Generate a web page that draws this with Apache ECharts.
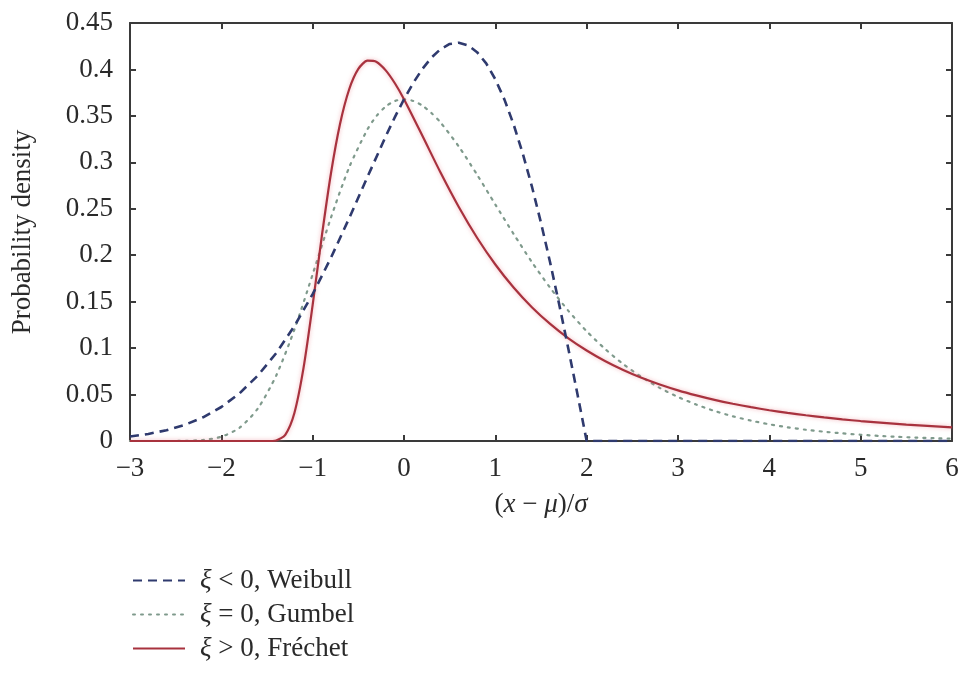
<!DOCTYPE html>
<html>
<head>
<meta charset="utf-8">
<script src="https://cdn.jsdelivr.net/npm/echarts@6/dist/echarts.min.js"></script>
<style>
  html, body { margin: 0; padding: 0; background: #fff; }
  #chart { width: 962px; height: 690px; }
</style>
</head>
<body>
<div id="chart"></div>
<script>
// Axis settings
const xTicks = { min: -3, max: 6, interval: 1 };
const yTicks = { min: 0, max: 0.45, interval: 0.05 };

// Density curves, [x, density] pairs
const weibull = [
  [-3.0, 0.0048], [-2.8, 0.0076], [-2.6, 0.0116], [-2.4, 0.0174], [-2.2, 0.0255],
  [-2.0, 0.0366], [-1.8, 0.0514], [-1.6, 0.0705], [-1.4, 0.0945], [-1.2, 0.1237],
  [-1.0, 0.1581], [-0.8, 0.1972], [-0.6, 0.2399], [-0.4, 0.2843], [-0.2, 0.3280],
  [-0.1, 0.3487], [0.0, 0.3679], [0.1, 0.3853], [0.2, 0.4004], [0.3, 0.4127],
  [0.4, 0.4218], [0.5, 0.4274], [0.6, 0.4288], [0.7, 0.4260], [0.8, 0.4186],
  [0.9, 0.4065], [1.0, 0.3894], [1.1, 0.3675], [1.2, 0.3409], [1.3, 0.3096],
  [1.4, 0.2742], [1.5, 0.2349], [1.6, 0.1922], [1.7, 0.1467], [1.8, 0.0990],
  [1.9, 0.0500], [2.0, 0.0], [6.0, 0.0]
];

const gumbel = [
  [-3.0, 0.0], [-2.6, 0.0], [-2.4, 0.0002], [-2.2, 0.0011], [-2.0, 0.0046],
  [-1.8, 0.0143], [-1.6, 0.0350], [-1.4, 0.0703], [-1.2, 0.1200], [-1.0, 0.1794],
  [-0.8, 0.2404], [-0.6, 0.2947], [-0.4, 0.3355], [-0.3, 0.3500], [-0.2, 0.3601],
  [-0.1, 0.3660], [0.0, 0.3679], [0.1, 0.3661], [0.2, 0.3611], [0.3, 0.3531],
  [0.4, 0.3429], [0.6, 0.3170], [0.8, 0.2867], [1.0, 0.2546], [1.2, 0.2229],
  [1.4, 0.1927], [1.6, 0.1650], [1.8, 0.1401], [2.0, 0.1182], [2.2, 0.0992],
  [2.4, 0.0828], [2.6, 0.0690], [2.8, 0.0572], [3.0, 0.0474], [3.2, 0.0392],
  [3.4, 0.0323], [3.6, 0.0266], [3.8, 0.0219], [4.0, 0.0180], [4.2, 0.0148],
  [4.4, 0.0121], [4.6, 0.0100], [4.8, 0.0082], [5.0, 0.0067], [5.2, 0.0055],
  [5.4, 0.0045], [5.6, 0.0037], [5.8, 0.0030], [6.0, 0.0025]
];

const frechet = [
  [-3.0, 0.0], [-1.5, 0.0], [-1.4, 0.0006], [-1.3, 0.0067], [-1.2, 0.0302],
  [-1.1, 0.0787], [-1.0, 0.1465], [-0.9, 0.2204], [-0.8, 0.2880], [-0.7, 0.3415],
  [-0.6, 0.3787], [-0.5, 0.4006], [-0.4, 0.4094], [-0.3, 0.4081], [-0.2, 0.3990],
  [-0.1, 0.3851], [0.0, 0.3679], [0.2, 0.3288], [0.4, 0.2890], [0.6, 0.2519],
  [0.8, 0.2188], [1.0, 0.1900], [1.2, 0.1652], [1.4, 0.1440], [1.6, 0.1260],
  [1.8, 0.1105], [2.0, 0.0974], [2.2, 0.0861], [2.4, 0.0764], [2.6, 0.0680],
  [2.8, 0.0608], [3.0, 0.0545], [3.2, 0.0491], [3.4, 0.0443], [3.6, 0.0401],
  [3.8, 0.0364], [4.0, 0.0331], [4.2, 0.0303], [4.4, 0.0277], [4.6, 0.0254],
  [4.8, 0.0233], [5.0, 0.0215], [5.5, 0.0177], [6.0, 0.0147]
];

// Legend entries
const seriesNames = ['weibull', 'gumbel', 'frechet'];
const legendLabels = {
  weibull: '{i|ξ} < 0, Weibull',
  gumbel: '{i|ξ} = 0, Gumbel',
  frechet: '{i|ξ} > 0, Fréchet'
};

const FONT = '"Liberation Serif", "DejaVu Serif", serif';
const FONT_SIZE = 27;
const AXIS_COLOR = '#3a3a3a';
const TEXT_COLOR = '#2a2a2a';
const italic = { fontFamily: FONT, fontSize: FONT_SIZE, fontStyle: 'italic', color: TEXT_COLOR };

const chart = echarts.init(document.getElementById('chart'), null, { renderer: 'canvas' });

const frameAxis = {
  axisLine: { show: true, onZero: false, lineStyle: { color: AXIS_COLOR, width: 2 } },
  axisTick: { show: true, inside: true, length: 6, lineStyle: { color: AXIS_COLOR, width: 2 } },
  splitLine: { show: false }
};

const option = {
  backgroundColor: '#ffffff',
  animation: false,
  grid: { left: 130, right: 10, top: 23, bottom: 249, containLabel: false },
  legend: {
    data: seriesNames,
    orient: 'vertical',
    left: 127,
    top: 561,
    itemWidth: 52,
    itemHeight: 14,
    itemGap: 5,
    selectedMode: false,
    itemStyle: { opacity: 0 },
    formatter: name => legendLabels[name],
    textStyle: {
      fontFamily: FONT, fontSize: FONT_SIZE, color: TEXT_COLOR, padding: [0, 0, 0, 10],
      lineHeight: 29,
      rich: { i: italic }
    }
  },
  xAxis: [
    Object.assign({
      type: 'value', position: 'bottom',
      min: xTicks.min, max: xTicks.max, interval: xTicks.interval,
      name: '({i|x} − {i|μ})/{i|σ}',
      nameLocation: 'middle', nameGap: 50,
      nameTextStyle: { fontFamily: FONT, fontSize: FONT_SIZE, color: TEXT_COLOR, rich: { i: italic } },
      axisLabel: {
        margin: 14, fontFamily: FONT, fontSize: FONT_SIZE, color: TEXT_COLOR,
        formatter: v => String(v).replace('-', '−')
      }
    }, frameAxis),
    Object.assign({
      type: 'value', position: 'top',
      min: xTicks.min, max: xTicks.max, interval: xTicks.interval,
      axisLabel: { show: false }
    }, frameAxis)
  ],
  yAxis: [
    Object.assign({
      type: 'value', position: 'left',
      min: yTicks.min, max: yTicks.max, interval: yTicks.interval,
      name: 'Probability density',
      nameLocation: 'middle', nameGap: 94, nameRotate: 90,
      nameTextStyle: { fontFamily: FONT, fontSize: FONT_SIZE, color: TEXT_COLOR },
      axisLabel: {
        margin: 17, fontFamily: FONT, fontSize: FONT_SIZE, color: TEXT_COLOR,
        formatter: v => String(+v.toFixed(2))
      }
    }, frameAxis),
    Object.assign({
      type: 'value', position: 'right',
      min: yTicks.min, max: yTicks.max, interval: yTicks.interval,
      axisLabel: { show: false }
    }, frameAxis)
  ],
  series: [
    {
      name: 'frechet', type: 'line', data: frechet,
      symbol: 'none', showSymbol: false, z: 3,
      smooth: 0.25,
      lineStyle: {
        color: '#a8323e', width: 2.2, type: 'solid',
        shadowColor: 'rgba(235,130,140,0.6)', shadowBlur: 4
      },
      itemStyle: { color: '#a8323e' }
    },
    {
      name: 'gumbel', type: 'line', data: gumbel,
      symbol: 'none', showSymbol: false, z: 2,
      smooth: 0.25,
      lineStyle: { color: '#7f9a8c', width: 2.2, type: [2, 6], cap: 'round' },
      itemStyle: { color: '#7f9a8c' }
    },
    {
      name: 'weibull', type: 'line', data: weibull,
      symbol: 'none', showSymbol: false, z: 4,
      lineStyle: { color: '#2f3a6e', width: 2.6, type: [9, 6] },
      itemStyle: { color: '#2f3a6e' }
    }
  ]
};

chart.setOption(option);
</script>
</body>
</html>
